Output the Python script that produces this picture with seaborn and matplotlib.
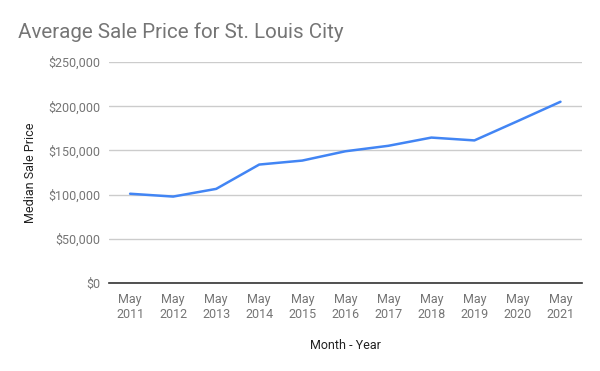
import matplotlib
matplotlib.use("Agg")
import matplotlib.pyplot as plt
import matplotlib.ticker as mticker
import seaborn as sns
import pandas as pd

years = ["2011", "2012", "2013", "2014", "2015", "2016",
         "2017", "2018", "2019", "2020", "2021"]
tick_labels = ["May\n" + y for y in years]
prices = [101000, 97800, 106500, 134000, 138500, 149000,
          155200, 164500, 161300, 183000, 205000]

df = pd.DataFrame({"period": tick_labels, "price": prices})

sns.set_style("white")
plt.rcParams["font.family"] = ["Roboto", "DejaVu Sans"]

fig = plt.figure(figsize=(6, 3.71), dpi=100)
ax = fig.add_axes([0.181, 0.237, 0.789, 0.596])

sns.lineplot(data=df, x="period", y="price", ax=ax, color="#4285f4",
             linewidth=1.8, sort=False)

ax.set_xlim(-0.5, len(years) - 0.5)
ax.set_ylim(0, 250000)
ax.yaxis.set_major_locator(mticker.MultipleLocator(50000))
ax.yaxis.set_major_formatter(mticker.FuncFormatter(lambda v, p: f"${v:,.0f}"))
ax.grid(axis="y", color="#cccccc", linewidth=1)
ax.set_axisbelow(True)
for s in ["top", "right", "left"]:
    ax.spines[s].set_visible(False)
ax.spines["bottom"].set_color("#333333")
ax.spines["bottom"].set_linewidth(1.2)
ax.tick_params(axis="both", length=0, labelsize=9, labelcolor="#757575", pad=6)
ax.tick_params(axis="x", pad=7)

ax.set_xlabel("Month - Year", fontsize=9, color="#222222", labelpad=13)
ax.set_ylabel("Median Sale Price", fontsize=9, color="#222222", labelpad=8)

fig.text(0.03, 0.913, "Average Sale Price for St. Louis City", fontsize=14.8,
         color="#757575", va="center")

fig.savefig("out.png", dpi=100)
